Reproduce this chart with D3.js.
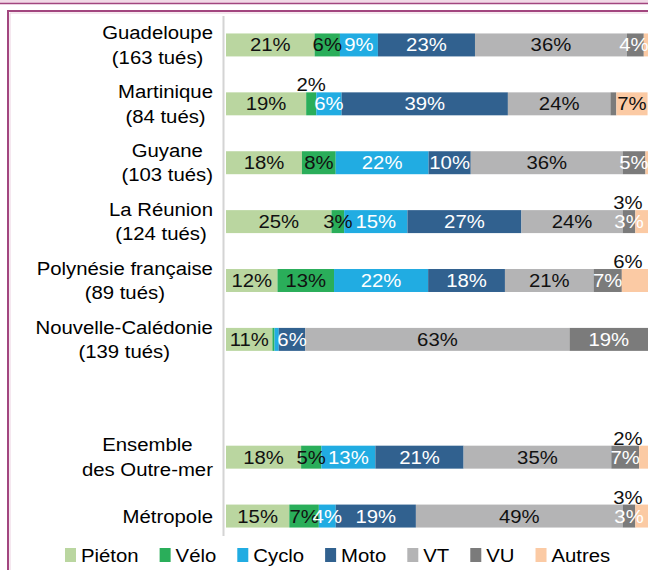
<!DOCTYPE html>
<html>
<head>
<meta charset="utf-8">
<script src="https://cdn.jsdelivr.net/npm/d3@7"></script>
<style>
  body { margin: 0; background: #fff; }
  svg text { font-family: "Liberation Sans", Arial, sans-serif; font-size: 18px; }
</style>
</head>
<body>
<svg id="chart" width="648" height="570"></svg>
<script>
// --- data (percent of road deaths by mode) ---
const categories = ["Guadeloupe", "Martinique", "Guyane", "La Réunion", "Polynésie française",
  "Nouvelle-Calédonie", "", "Ensemble des Outre-mer", "Métropole"];
const categoryLines = [["Guadeloupe", "(163 tués)"], ["Martinique", "(84 tués)"], ["Guyane", "(103 tués)"],
  ["La Réunion", "(124 tués)"], ["Polynésie française", "(89 tués)"], ["Nouvelle-Calédonie", "(139 tués)"],
  [], ["Ensemble", "des Outre-mer"], ["Métropole"]];
const seriesNames = ["Piéton", "Vélo", "Cyclo", "Moto", "VT", "VU", "Autres"];

const pieton = [21, 19, 18, 25, 12.2, 11, 0, 17.8, 15];
const velo   = [6, 2.4, 8, 3, 13.4, 0.5, 0, 4.8, 7];
const cyclo  = [9, 6, 22, 15, 22.3, 1, 0, 12.8, 4];
const moto   = [23, 39.4, 10, 27, 18.2, 6.3, 0, 20.9, 19];
const vt     = [36, 24.3, 36, 24, 21, 62.6, 0, 35, 49];
const vu     = [4, 1.4, 5.4, 3, 6.7, 18.6, 0, 6.6, 3];
const autres = [1, 7.4, 0.6, 3, 6.2, 0, 0, 2.1, 3];

const colors = ["#bad6a0", "#2aae5a", "#21ace2", "#31618f", "#b4b4b5", "#7b7b7b", "#fbcaa4"];
const whiteText = ["Cyclo", "Moto", "VU"];

const sx = 1.13; // text is drawn slightly wider than normal
const svg = d3.select("#chart");

// --- frame (purple borders of the report page) ---
svg.append("rect").attr("x", 0).attr("y", 0).attr("width", 648).attr("height", 3).attr("fill", "#f1d9e6");
svg.append("line").attr("x1", 0).attr("x2", 648).attr("y1", 3.5).attr("y2", 3.5)
  .attr("stroke", "#a2467f").attr("stroke-width", 1.6);
svg.append("path").attr("d", "M8,580 V11 H660").attr("fill", "none")
  .attr("stroke", "#a2467f").attr("stroke-width", 2);
svg.append("path").attr("d", "M10,580 V13 H660").attr("fill", "none")
  .attr("stroke", "#ecd0df").attr("stroke-width", 1);

// --- scales ---
const table = categories.map((c, i) => ({
  cat: c, "Piéton": pieton[i], "Vélo": velo[i], "Cyclo": cyclo[i], "Moto": moto[i],
  "VT": vt[i], "VU": vu[i], "Autres": autres[i]
}));
const stack = d3.stack().keys(seriesNames)(table);

const x = d3.scaleLinear().domain([0, 100]).range([226, 648]);
const y = d3.scaleBand().domain(categories).range([15.5, 545.5]).paddingInner(0.61).paddingOuter(0.305);
const color = d3.scaleOrdinal().domain(seriesNames).range(colors);

// axis line
svg.append("line").attr("x1", 223.5).attr("x2", 223.5).attr("y1", 16).attr("y2", 536)
  .attr("stroke", "#d4d4d4").attr("stroke-width", 2);

// --- bars ---
const layers = svg.append("g").selectAll("g").data(stack).join("g")
  .attr("fill", d => color(d.key));
layers.selectAll("rect").data(d => d.filter(p => p.data.cat !== "")).join("rect")
  .attr("x", d => x(d[0]))
  .attr("y", d => y(d.data.cat))
  .attr("width", d => x(d[1]) - x(d[0]))
  .attr("height", y.bandwidth());

// --- value labels ---
const labels = [];
stack.forEach(s => s.forEach(p => {
  const v = p[1] - p[0];
  if (p.data.cat === "" || v < 1.5) return;
  const above = (s.key === "Autres" && v < 7) || v < 2.5;
  labels.push({ key: s.key, v, cat: p.data.cat, cx: (x(p[0]) + x(p[1])) / 2, above });
}));
svg.append("g").selectAll("text").data(labels).join("text")
  .attr("text-anchor", "middle")
  .attr("transform", d => {
    const cx = d.above ? Math.min(d.cx, 628) : Math.min(d.cx, 634);
    const cy = d.above ? y(d.cat) - 1 : y(d.cat) + y.bandwidth() / 2 + 6.5;
    return `translate(${cx},${cy}) scale(${sx},1)`;
  })
  .attr("fill", d => (!d.above && whiteText.includes(d.key)) ? "#fff" : "#111")
  .text(d => `${Math.round(d.v)}%`);

// --- category labels (centred block, right aligned to the axis) ---
categories.forEach((c, i) => {
  const lines = categoryLines[i];
  if (!lines.length) return;
  const cy = y(c) + y.bandwidth() / 2;
  const g = svg.append("g");
  const texts = lines.map((t, j) => g.append("text")
    .attr("text-anchor", "middle")
    .attr("y", cy + 6.5 + (j - (lines.length - 1) / 2) * 24.5)
    .text(t));
  const w = d3.max(texts, t => t.node().getComputedTextLength()) * sx;
  const cx = 213 - w / 2;
  texts.forEach(t => t.attr("transform", `translate(${cx},0) scale(${sx},1)`));
});

// --- legend ---
const legend = svg.append("g").attr("transform", "translate(65,555)");
let cum = 0;
seriesNames.forEach(name => {
  const g = legend.append("g");
  g.append("rect").attr("x", 0).attr("y", -7).attr("width", 11).attr("height", 14).attr("fill", color(name));
  const t = g.append("text").attr("transform", `translate(16,6.5) scale(${sx},1)`).text(name);
  g.attr("transform", `translate(${cum},0)`);
  cum += 16 + t.node().getComputedTextLength() * sx + 21;
});
</script>
</body>
</html>
